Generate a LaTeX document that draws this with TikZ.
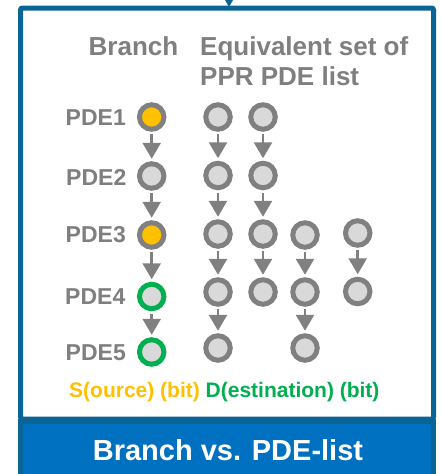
\documentclass[tikz,border=0pt]{standalone}
\usepackage{fontspec}
\setmainfont{Liberation Sans}
\usetikzlibrary{arrows.meta}
\definecolor{frameblue}{RGB}{10,100,150}
\definecolor{bannerblue}{RGB}{0,112,192}
\definecolor{txtgray}{RGB}{127,127,127}
\definecolor{ringgray}{RGB}{128,128,128}
\definecolor{fillgray}{RGB}{217,217,217}
\definecolor{srcorange}{RGB}{255,192,0}
\definecolor{dstgreen}{RGB}{0,176,80}
\tikzset{
  pde/.style={circle, inner sep=0pt, minimum size=24.5pt, line width=5pt, draw=ringgray, fill=fillgray},
  srcpde/.style={pde, fill=srcorange},
  dstpde/.style={pde, draw=dstgreen},
  arr/.style={draw=ringgray, line width=2.6pt, -{Triangle[length=16pt 0 0,width=18pt 0 0]}, shorten >=2.5pt, shorten <=2.5pt},
  rowlab/.style={anchor=east, inner sep=0pt, text=txtgray, font=\bfseries\fontsize{23}{27}\selectfont},
  head/.style={inner sep=0pt, text=txtgray, font=\bfseries\fontsize{26}{30}\selectfont}
}
\begin{document}
\begin{tikzpicture}[x=1pt,y=-1pt]
\useasboundingbox (0,0) rectangle (440,474);
% frame
\draw[line width=5pt, draw=frameblue, fill=white, rounded corners=2pt] (20.5,8) rectangle (433.5,419);
\fill[frameblue] (225,0) -- (233,0) -- (229,7) -- cycle;
% banner
\draw[line width=5pt, draw=frameblue, fill=bannerblue] (20.5,421) rectangle (433.5,480);
\node[inner sep=0pt, anchor=base, text=white, font=\bfseries\fontsize{29}{33}\selectfont] (banner) at (228,460.5) {Branch vs. PDE-list};
% headers
\node[head, anchor=base] (hbranch) at (133.5,55) {Branch};
\node[head, anchor=base west] (heq1) at (200,55) {Equivalent set of};
\node[head, anchor=base west] (heq2) at (200,85) {PPR PDE list};
% row labels
\node[rowlab] (l1) at (126,118) {PDE1};
\node[rowlab] (l2) at (126.5,177) {PDE2};
\node[rowlab] (l3) at (126,235) {PDE3};
\node[rowlab] (l4) at (125.5,296.5) {PDE4};
\node[rowlab] (l5) at (126,353) {PDE5};
% branch column
\node[srcpde] (b1) at (151.7,117) {};
\node[pde] (b2) at (151.7,176) {};
\node[srcpde] (b3) at (151.7,235) {};
\node[dstpde] (b4) at (151.7,296.5) {};
\node[dstpde] (b5) at (151.7,352) {};
\draw[arr] (b1) -- (b2);
\draw[arr] (b2) -- (b3);
\draw[arr] (b3) -- (b4);
\draw[arr] (b4) -- (b5);
% column 2
\node[pde] (a1) at (218,117) {};
\node[pde] (a2) at (218,175.5) {};
\node[pde] (a3) at (218,234) {};
\node[pde] (a4) at (218,292) {};
\node[pde] (a5) at (218,348) {};
\draw[arr] (a1) -- (a2);
\draw[arr] (a2) -- (a3);
\draw[arr] (a3) -- (a4);
\draw[arr] (a4) -- (a5);
% column 3
\node[pde] (c1) at (263,117) {};
\node[pde] (c2) at (263,175.5) {};
\node[pde] (c3) at (263,234) {};
\node[pde] (c4) at (263,292) {};
\draw[arr] (c1) -- (c2);
\draw[arr] (c2) -- (c3);
\draw[arr] (c3) -- (c4);
% column 4
\node[pde] (d3) at (305,235) {};
\node[pde] (d4) at (305,292) {};
\node[pde] (d5) at (305,348) {};
\draw[arr] (d3) -- (d4);
\draw[arr] (d4) -- (d5);
% column 5
\node[pde] (e3) at (357.7,233) {};
\node[pde] (e4) at (357.7,291.5) {};
\draw[arr] (e3) -- (e4);
% legend
\node[inner sep=0pt, anchor=base west, font=\bfseries\fontsize{21}{25}\selectfont] (legend) at (69,397) {\textcolor{srcorange}{S(ource) (bit)} \textcolor{dstgreen}{D(estination) (bit)}};
\end{tikzpicture}
\end{document}
